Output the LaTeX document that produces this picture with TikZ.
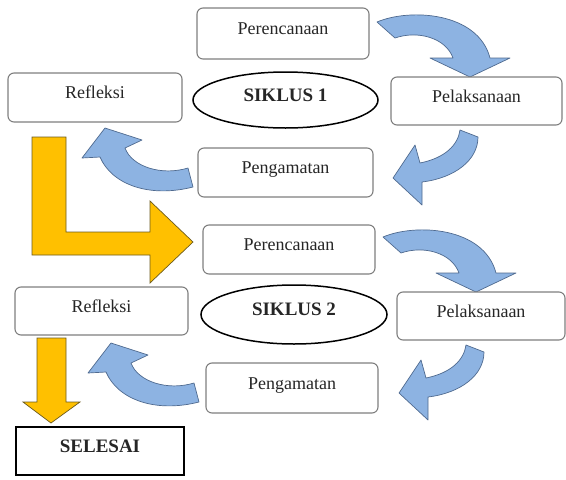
\documentclass[tikz,border=0pt]{standalone}
\usepackage{fontspec}
\setmainfont{Liberation Serif}
\usetikzlibrary{shapes.geometric}
\definecolor{boxgray}{HTML}{7F7F7F}
\definecolor{arrowblue}{HTML}{8DB3E2}
\definecolor{arrowedge}{HTML}{4F6A8F}
\definecolor{gold}{HTML}{FFC000}
\definecolor{goldedge}{HTML}{6B5A1E}
\definecolor{txt}{HTML}{262626}
\newcommand{\drawCycleArrows}{%
  % Perencanaan -> Pelaksanaan
  \draw[bluearrow] (377,22) .. controls (410,8) and (478,12) .. (490,58)
    -- (510,58) -- (470,77) -- (430,58) -- (453,58)
    .. controls (446,38) and (418,30) .. (395,38) -- cycle;
  % Pelaksanaan -> Pengamatan
  \draw[bluearrow] (460,130) -- (478,137) .. controls (478,160) and (455,178) .. (422,182)
    -- (422,205) -- (393,178) -- (415,145) -- (420,163)
    .. controls (445,158) and (458,145) .. (460,130) -- cycle;
  % Pengamatan -> Refleksi
  \draw[bluearrow] (188,168) -- (193,187) .. controls (150,198) and (112,185) .. (100,157)
    -- (82,158) -- (105,128) -- (142,140) -- (125,148)
    .. controls (132,167) and (162,176) .. (188,168) -- cycle;
}
\begin{document}
\begin{tikzpicture}[x=1pt,y=-1pt,
  stagebox/.style={draw=boxgray, line width=1.1pt, rounded corners=6pt, fill=white,
    text=txt, font=\fontsize{18}{20}\selectfont, text height=13pt, text depth=11pt, inner sep=0pt},
  cyclelabel/.style={ellipse, draw=black, line width=1.5pt, fill=white, text=txt,
    font=\fontsize{19}{21}\selectfont\bfseries, text height=13pt, text depth=11pt, inner sep=0pt},
  endbox/.style={draw=black, line width=2.6pt, fill=white, text=txt,
    font=\fontsize{19}{21}\selectfont\bfseries, text height=13pt, text depth=11pt, inner sep=0pt},
  bluearrow/.style={fill=arrowblue, draw=arrowedge, line width=0.7pt, line join=round},
  goldarrow/.style={fill=gold, draw=goldedge, line width=0.7pt, line join=miter},
]
\useasboundingbox (0,0) rectangle (566,480);

% blue cycle arrows
\drawCycleArrows
\begin{scope}[shift={(6,215)}]
  \drawCycleArrows
\end{scope}

% yellow arrows
\draw[goldarrow] (32,137) -- (66,137) -- (66,232) -- (150,232) -- (150,201) -- (193,242)
  -- (150,283) -- (150,255) -- (32,255) -- cycle;
\draw[goldarrow] (37,338) -- (66,338) -- (66,402) -- (80,402) -- (51,423) -- (23,402)
  -- (37,402) -- cycle;

% cycle 1
\node[stagebox, minimum width=172pt, minimum height=51pt] (per1) at (283,33.5) {Perencanaan};
\node[stagebox, minimum width=174pt, minimum height=49pt] (ref1) at (95,97.5) {Refleksi};
\node[stagebox, minimum width=171pt, minimum height=48pt] (pel1) at (476.5,101) {Pelaksanaan};
\node[stagebox, minimum width=175pt, minimum height=49pt] (peng1) at (285.5,172.5) {Pengamatan};
\node[cyclelabel, minimum width=185pt, minimum height=56pt] (sik1) at (285.5,100) {SIKLUS 1};

% cycle 2
\node[stagebox, minimum width=172pt, minimum height=49pt] (per2) at (289,249.5) {Perencanaan};
\node[stagebox, minimum width=173pt, minimum height=48pt] (ref2) at (101.5,311) {Refleksi};
\node[stagebox, minimum width=168pt, minimum height=48pt] (pel2) at (481,316) {Pelaksanaan};
\node[stagebox, minimum width=172pt, minimum height=50pt] (peng2) at (292,388) {Pengamatan};
\node[cyclelabel, minimum width=186pt, minimum height=59pt] (sik2) at (294,314.5) {SIKLUS 2};

% end
\node[endbox, minimum width=168pt, minimum height=48pt] (sel) at (100,451) {SELESAI};
\end{tikzpicture}
\end{document}
